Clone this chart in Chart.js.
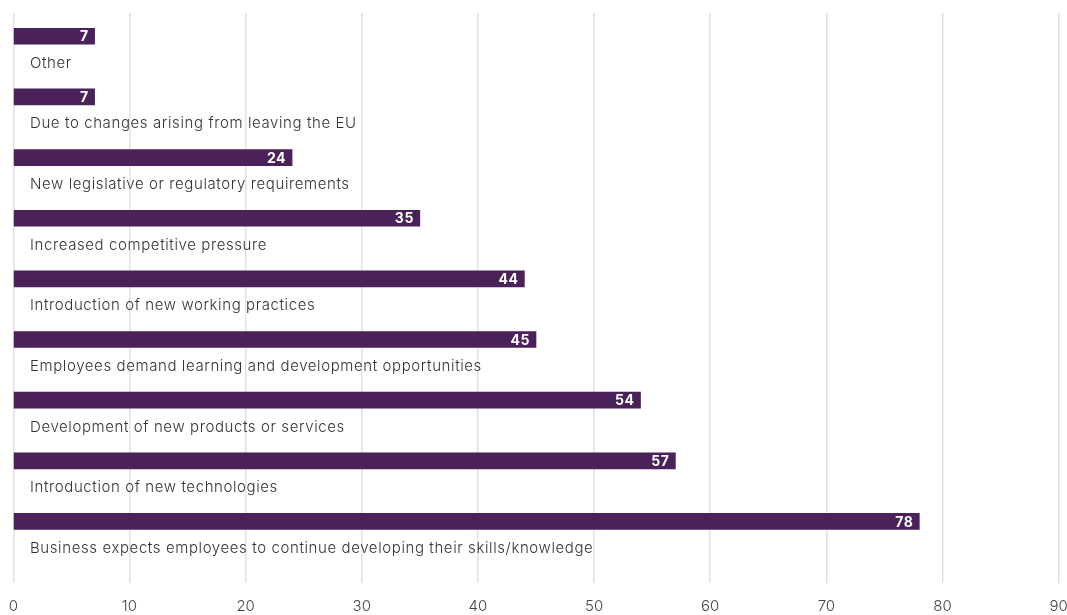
<!DOCTYPE html>
<html>
<head>
<meta charset="utf-8">
<script src="https://cdn.jsdelivr.net/npm/chart.js@4/dist/chart.umd.min.js"></script>
<style>
  html, body { margin: 0; padding: 0; background: #fff; overflow: hidden; }
  #wrap { width: 1067px; height: 615px; position: relative; }
</style>
</head>
<body>
<div id="wrap"><canvas id="chart"></canvas></div>
<script>
// chart data, top to bottom
const categories = [
    "Other",
    "Due to changes arising from leaving the EU",
    "New legislative or regulatory requirements",
    "Increased competitive pressure",
    "Introduction of new working practices",
    "Employees demand learning and development opportunities",
    "Development of new products or services",
    "Introduction of new technologies",
    "Business expects employees to continue developing their skills/knowledge"
];
const values = [7, 7, 24, 35, 44, 45, 54, 57, 78];
const xMin = 0, xMax = 90, xStep = 10;

const barColor = "#4b2159";
const fontFamily = "Inter, 'Open Sans', sans-serif";

/* ---------- LABEL PLUGIN ---------- */
const labelPlugin = {
    id: "barLabels",
    afterDatasetsDraw(chart) {
        const ctx = chart.ctx;
        const meta = chart.getDatasetMeta(0);
        ctx.save();
        meta.data.forEach((bar, i) => {
            // value inside bar end
            ctx.letterSpacing = "0.5px";
            ctx.font = "bold 14px " + fontFamily;
            ctx.fillStyle = "#ffffff";
            ctx.textAlign = "right";
            ctx.textBaseline = "middle";
            ctx.fillText(values[i], bar.x - 6, bar.y + 1);
            // category text under the bar
            ctx.letterSpacing = "0.6px";
            ctx.font = "300 15px " + fontFamily;
            ctx.fillStyle = "#333333";
            ctx.textAlign = "left";
            ctx.fillText(categories[i], 30, bar.y + 27);
        });
        ctx.restore();
    }
};

new Chart(document.getElementById("chart"), {
    type: "bar",
    data: {
        datasets: [{
            data: values.map((v, i) => ({ x: v, y: i })),
            backgroundColor: barColor,
            barThickness: 16,
            borderWidth: 0
        }]
    },
    options: {
        indexAxis: "y",
        responsive: true,
        maintainAspectRatio: false,
        animation: false,
        layout: { padding: { top: 13, left: 13.3, right: 8.3, bottom: 0 } },
        plugins: { legend: { display: false }, tooltip: { enabled: false } },
        scales: {
            x: {
                type: "linear",
                min: xMin, max: xMax,
                ticks: { stepSize: xStep, color: "#444", font: { family: fontFamily, size: 15, weight: 300 }, padding: 14 },
                grid: { color: "#e2e2e2", lineWidth: 1.5, drawTicks: false },
                border: { display: false },
                afterFit: s => { s.height = 31.7; s.paddingLeft = 0; s.paddingRight = 0; }
            },
            y: {
                type: "linear",
                reverse: true,
                offset: false,
                min: -0.384, max: 9.02,
                display: false
            }
        }
    },
    plugins: [labelPlugin]
});
</script>
</body>
</html>
